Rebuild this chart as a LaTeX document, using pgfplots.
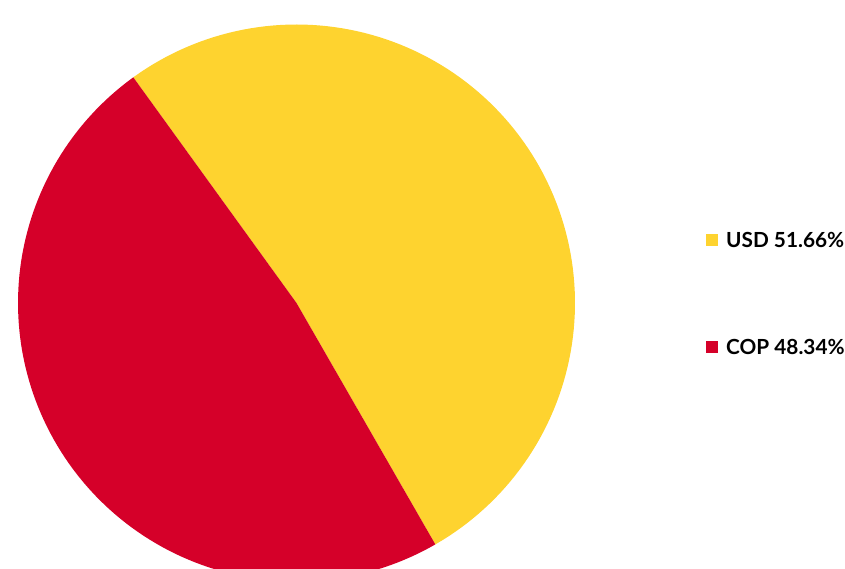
\documentclass[border=0pt]{standalone}
\usepackage{pgfplots}
\pgfplotsset{compat=1.18}
\usepackage{fontspec}
\setmainfont{Lato}
\definecolor{usdyellow}{RGB}{254,211,47}
\definecolor{copred}{RGB}{213,0,41}
% shares in percent
\def\usd{51.66}
\def\cop{48.34}
\def\startangle{-60.1}
\begin{document}
\begin{tikzpicture}
\path[use as bounding box, clip] (0pt,0pt) rectangle (845pt,569pt);
\begin{axis}[
  at={(296.5pt,266pt)}, anchor=center,
  scale only axis, width=557pt, height=557pt,
  xmin=-1, xmax=1, ymin=-1, ymax=1,
  hide axis, clip=false,
]
\pgfmathsetmacro{\midangle}{\startangle+3.6*\usd}
\pgfmathsetmacro{\endangle}{\midangle+3.6*\cop}
\addplot[fill=usdyellow, draw=none, domain=\startangle:\midangle, samples=120]
  ({cos(x)},{sin(x)}) -- (axis cs:0,0) -- cycle;
\addplot[fill=copred, draw=none, domain=\midangle:\endangle, samples=120]
  ({cos(x)},{sin(x)}) -- (axis cs:0,0) -- cycle;
\end{axis}
\fill[usdyellow] (706pt,323pt) rectangle (718pt,335pt);
\fill[copred] (706pt,216pt) rectangle (718pt,228pt);
\node[anchor=base west, inner sep=0pt, font=\fontsize{20.8}{24}\selectfont\bfseries] at (726pt,321pt) {USD 51.66\%};
\node[anchor=base west, inner sep=0pt, font=\fontsize{20.8}{24}\selectfont\bfseries] at (726pt,214pt) {COP 48.34\%};
\end{tikzpicture}
\end{document}
